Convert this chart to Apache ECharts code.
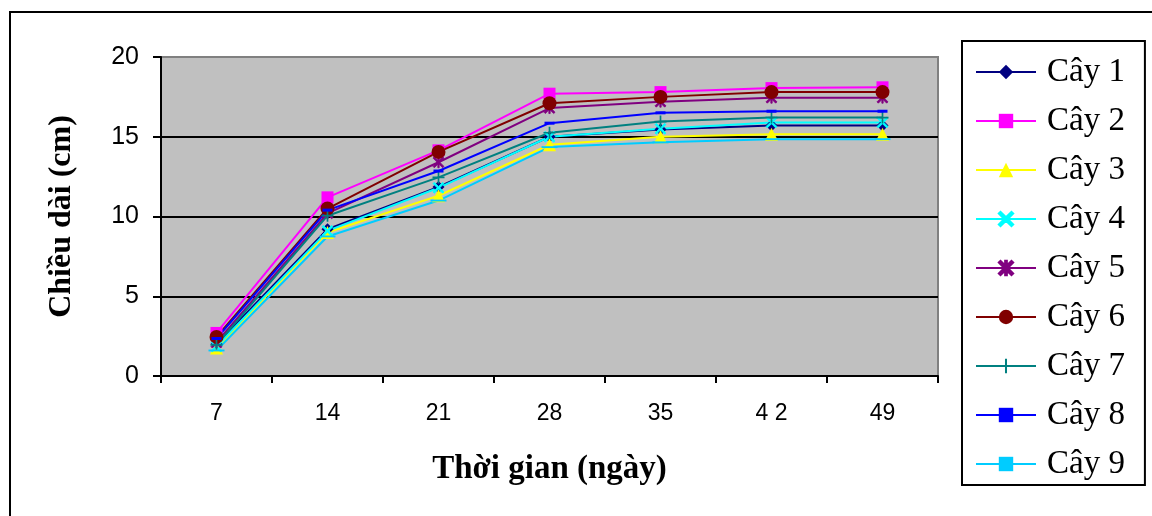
<!DOCTYPE html>
<html>
<head>
<meta charset="utf-8">
<script src="https://cdn.jsdelivr.net/npm/echarts@6/dist/echarts.min.js"></script>
<style>
  html, body { margin: 0; padding: 0; background: #fff; }
  #chart { width: 1152px; height: 516px; }
</style>
</head>
<body>
<div id="chart"></div>
<script>
// Days after planting
const days = ['7', '14', '21', '28', '35', '4 2', '49'];

// Length (cm) of each plant on each measurement day
const cay1 = [2.0, 9.2, 11.85, 15.0, 15.45, 15.7, 15.7];
const cay2 = [2.7, 11.2, 14.15, 17.7, 17.8, 18.05, 18.1];
const cay3 = [1.75, 9.0, 11.3, 14.5, 15.0, 15.15, 15.15];
const cay4 = [1.85, 9.1, 11.8, 15.0, 15.5, 15.9, 15.9];
const cay5 = [2.1, 10.2, 13.4, 16.8, 17.2, 17.45, 17.45];
const cay6 = [2.45, 10.5, 14.05, 17.1, 17.5, 17.8, 17.8];
const cay7 = [1.95, 10.05, 12.45, 15.25, 15.95, 16.2, 16.2];
const cay8 = [2.35, 10.4, 12.85, 15.85, 16.5, 16.6, 16.6];
const cay9 = [1.6, 8.75, 11.0, 14.35, 14.65, 14.85, 14.85];

const names = ['Cây 1', 'Cây 2', 'Cây 3', 'Cây 4', 'Cây 5', 'Cây 6', 'Cây 7', 'Cây 8', 'Cây 9'];
const values = [cay1, cay2, cay3, cay4, cay5, cay6, cay7, cay8, cay9];
const colors = ['#000080', '#FF00FF', '#FFFF00', '#00FFFF', '#800080', '#800000', '#008080', '#0000FF', '#00CCFF'];

// Marker shapes
const xMark = 'path://M0,1.2L1.2,0L5,3.8L8.8,0L10,1.2L6.2,5L10,8.8L8.8,10L5,6.2L1.2,10L0,8.8L3.8,5Z';
const starMark = 'path://M0,1.2L1.2,0L5,3.8L8.8,0L10,1.2L6.2,5L10,8.8L8.8,10L5,6.2L1.2,10L0,8.8L3.8,5Z M4.4,0L5.6,0L5.6,10L4.4,10Z';
const plusMark = 'path://M4.3,0H5.7V4.3H10V5.7H5.7V10H4.3V5.7H0V4.3H4.3Z';
const dashMark = 'path://M0,0H10V5H0Z';
const longDashMark = 'path://M0,0H16V5H0Z';
const symbols = ['diamond', 'rect', 'triangle', xMark, starMark, 'circle', plusMark, dashMark, longDashMark];
const sizes = [12, 12, 13, 11, 11, 14, 12, [10, 6], [16, 6]];

const series = names.map((n, i) => ({
  name: n,
  type: 'line',
  data: values[i],
  symbol: symbols[i],
  symbolSize: sizes[i],
  symbolKeepAspect: true,
  showAllSymbol: true,
  lineStyle: { color: colors[i], width: 2 },
  itemStyle: { color: colors[i], borderColor: colors[i], borderWidth: (i === 3 || i === 4) ? 0.8 : 0 },
  emphasis: { disabled: true },
  animation: false
}));

const chart = echarts.init(document.getElementById('chart'), null, { renderer: 'canvas' });
chart.setOption({
  backgroundColor: '#ffffff',
  animation: false,
  graphic: [{
    type: 'rect',
    shape: { x: 10, y: 12, width: 1160, height: 520 },
    style: { fill: 'none', stroke: '#000', lineWidth: 2 },
    silent: true
  }],
  grid: {
    left: 161, top: 57, right: 214, bottom: 140,
    show: true,
    backgroundColor: '#C0C0C0',
    borderColor: '#808080',
    borderWidth: 2
  },
  legend: {
    orient: 'vertical',
    left: 962,
    top: 41,
    data: names,
    itemWidth: 60,
    itemHeight: 18,
    itemGap: 15,
    padding: [14, 20, 4, 13],
    borderColor: '#000',
    borderWidth: 2,
    backgroundColor: '#fff',
    selectedMode: false,
    textStyle: {
      fontFamily: 'Liberation Serif',
      fontSize: 33,
      color: '#000',
      lineHeight: 34,
      padding: [0, 0, 0, 6]
    }
  },
  xAxis: {
    type: 'category',
    data: days,
    name: 'Thời gian (ngày)',
    nameLocation: 'middle',
    nameGap: 77,
    nameTextStyle: { fontFamily: 'Liberation Serif', fontWeight: 'bold', fontSize: 33, color: '#000' },
    axisLine: { lineStyle: { color: '#000', width: 2 } },
    axisTick: { show: true, length: 7, lineStyle: { color: '#000', width: 2 } },
    axisLabel: { fontFamily: 'Liberation Sans', fontSize: 23, color: '#000', margin: 26 },
    splitLine: { show: false }
  },
  yAxis: {
    type: 'value',
    min: 0,
    max: 20,
    interval: 5,
    name: 'Chiều dài (cm)',
    nameLocation: 'middle',
    nameGap: 83,
    nameTextStyle: { fontFamily: 'Liberation Serif', fontWeight: 'bold', fontSize: 32, color: '#000' },
    axisLine: { show: true, lineStyle: { color: '#000', width: 2 } },
    axisTick: { show: true, length: 8, lineStyle: { color: '#000', width: 2 } },
    axisLabel: { fontFamily: 'Liberation Sans', fontSize: 25, color: '#000', margin: 22 },
    splitLine: { show: true, showMaxLine: false, showMinLine: false, lineStyle: { color: '#000', width: 2 } }
  },
  series: series
});
</script>
</body>
</html>
